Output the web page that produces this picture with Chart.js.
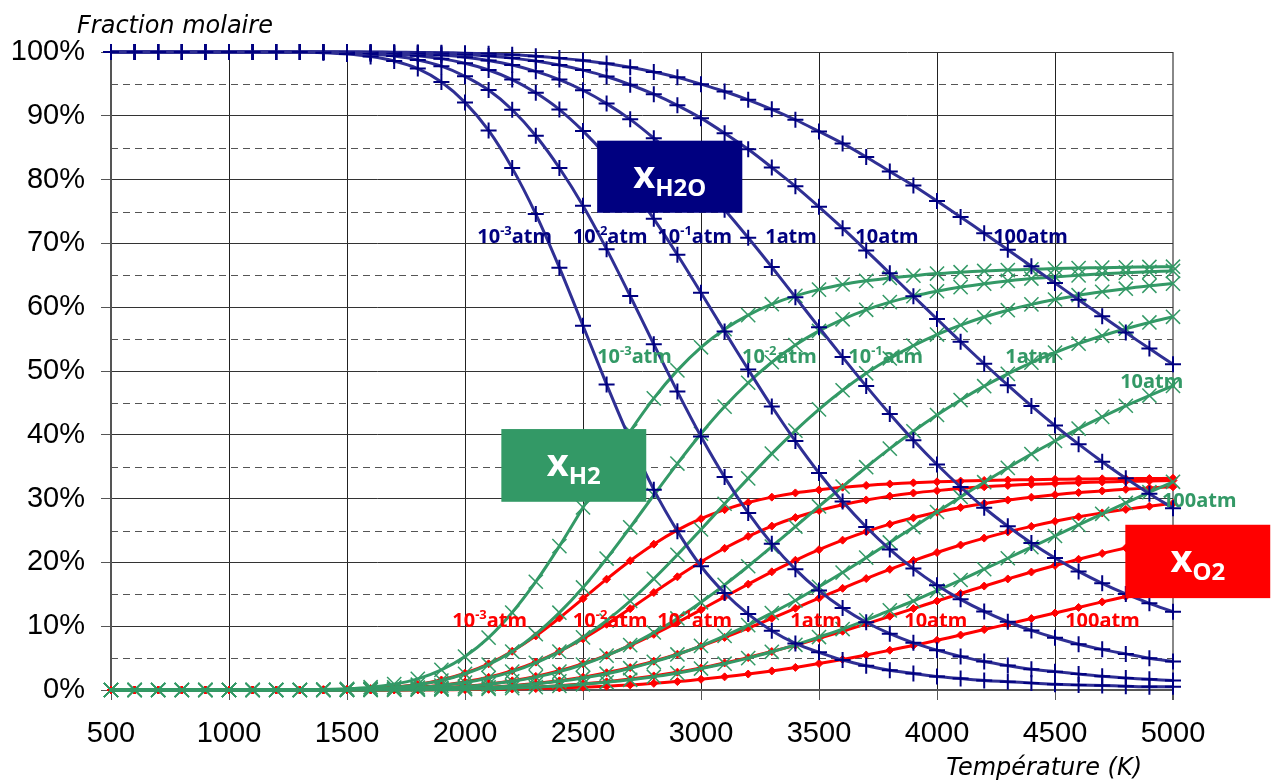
<!DOCTYPE html>
<html lang="fr">
<head>
<meta charset="utf-8">
<title>Fraction molaire H2O / H2 / O2</title>
<script src="https://cdn.jsdelivr.net/npm/chart.js@4.4.1/dist/chart.umd.min.js"></script>
<style>
  html, body { margin: 0; padding: 0; background: #fff; }
  #wrap { position: relative; width: 1276px; height: 781px; }
</style>
</head>
<body>
<div id="wrap"><canvas id="graphCanvas"></canvas></div>
<script>
// temperatures (K), one point every 100 K
var temperatures = [
  500, 600, 700, 800, 900, 1000, 1100, 1200, 1300, 1400,
  1500, 1600, 1700, 1800, 1900, 2000, 2100, 2200, 2300, 2400,
  2500, 2600, 2700, 2800, 2900, 3000, 3100, 3200, 3300, 3400,
  3500, 3600, 3700, 3800, 3900, 4000, 4100, 4200, 4300, 4400,
  4500, 4600, 4700, 4800, 4900, 5000
];

// pressure labels : base + exponent + "atm"
var pressureBase = ['10', '10', '10', '1', '10', '100'];
var pressureExp = ['-3', '-2', '-1', '', '', ''];

var yTicks = [0, 10, 20, 30, 40, 50, 60, 70, 80, 90, 100];
var yMinorTicks = [5, 15, 25, 35, 45, 55, 65, 75, 85, 95];

// x H2O (%)
var xH2O_m3 = [
  100, 100, 100, 100, 100,
  100, 100, 100, 100, 99.9,
  99.7, 99.3, 98.6, 97.4, 95.3,
  92.1, 87.7, 81.8, 74.6, 66.2,
  57.1, 47.9, 39.2, 31.4, 24.9,
  19.4, 15.2, 11.9, 9.3, 7.3,
  5.9, 4.7, 3.8, 3.1, 2.6,
  2.1, 1.8, 1.5, 1.3, 1.1,
  0.9, 0.8, 0.7, 0.6, 0.5,
  0.5
];
var xH2O_m2 = [
  100, 100, 100, 100, 100,
  100, 100, 100, 100, 99.95,
  99.87, 99.69, 99.36, 98.76, 97.78,
  96.19, 94.03, 90.95, 86.87, 81.82,
  75.9, 69.1, 61.75, 54.19, 46.77,
  39.74, 33.37, 27.76, 22.94, 18.91,
  15.58, 12.85, 10.62, 8.82, 7.39,
  6.25, 5.27, 4.46, 3.83, 3.27,
  2.88, 2.51, 2.16, 1.89, 1.68,
  1.48
];
var xH2O_m1 = [
  100, 100, 100, 100, 100,
  100, 100, 100, 100, 99.98,
  99.94, 99.86, 99.7, 99.42, 98.96,
  98.24, 97.18, 95.68, 93.6, 90.98,
  87.63, 83.67, 79.07, 73.85, 68.22,
  62.26, 56.21, 50.24, 44.43, 39.01,
  34.02, 29.53, 25.55, 22.04, 19.03,
  16.43, 14.21, 12.31, 10.7, 9.34,
  8.18, 7.18, 6.37, 5.66, 4.97,
  4.45
];
var xH2O_0 = [
  100, 100, 100, 100, 100,
  100, 100, 100, 100, 99.99,
  99.97, 99.93, 99.86, 99.73, 99.51,
  99.18, 98.67, 97.96, 96.97, 95.68,
  94.0, 91.91, 89.44, 86.48, 83.17,
  79.38, 75.28, 70.89, 66.3, 61.57,
  56.84, 52.18, 47.63, 43.26, 39.16,
  35.35, 31.82, 28.57, 25.67, 23.04,
  20.68, 18.59, 16.72, 15.06, 13.59,
  12.26
];
var xH2O_p1 = [
  100, 100, 100, 100, 100,
  100, 100, 100, 100, 100,
  99.99, 99.97, 99.94, 99.88, 99.78,
  99.62, 99.38, 99.04, 98.58, 97.96,
  97.16, 96.16, 94.87, 93.38, 91.64,
  89.63, 87.27, 84.75, 81.9, 78.95,
  75.74, 72.38, 68.88, 65.31, 61.72,
  58.15, 54.6, 51.14, 47.78, 44.53,
  41.45, 38.53, 35.78, 33.18, 30.77,
  28.5
];
var xH2O_p2 = [
  100, 100, 100, 100, 100,
  100, 100, 100, 100, 100,
  100, 99.99, 99.97, 99.94, 99.9,
  99.82, 99.71, 99.55, 99.34, 99.04,
  98.67, 98.19, 97.6, 96.87, 96.03,
  94.96, 93.81, 92.51, 91.02, 89.38,
  87.55, 85.67, 83.55, 81.28, 79.07,
  76.63, 74.14, 71.6, 69.02, 66.41,
  63.78, 61.18, 58.58, 56.02, 53.51,
  51.06
];

// x H2 (%)
var xH2_m3 = [
  0, 0, 0, 0, 0,
  0, 0, 0, 0, 0.07,
  0.19, 0.44, 0.92, 1.75, 3.15,
  5.24, 8.21, 12.14, 16.97, 22.55,
  28.62, 34.74, 40.54, 45.71, 50.1,
  53.71, 56.55, 58.76, 60.47, 61.78,
  62.75, 63.56, 64.13, 64.59, 64.94,
  65.27, 65.49, 65.68, 65.82, 65.94,
  66.05, 66.13, 66.2, 66.26, 66.31,
  66.35
];
var xH2_m2 = [
  0, 0, 0, 0, 0,
  0, 0, 0, 0, 0.03,
  0.09, 0.2, 0.43, 0.83, 1.48,
  2.54, 3.98, 6.03, 8.75, 12.12,
  16.07, 20.6, 25.5, 30.54, 35.49,
  40.17, 44.42, 48.16, 51.37, 54.06,
  56.28, 58.1, 59.59, 60.79, 61.74,
  62.5, 63.15, 63.69, 64.12, 64.49,
  64.75, 64.99, 65.23, 65.41, 65.55,
  65.68
];
var xH2_m1 = [
  0, 0, 0, 0, 0,
  0, 0, 0, 0, 0.02,
  0.04, 0.09, 0.2, 0.39, 0.69,
  1.17, 1.88, 2.88, 4.27, 6.01,
  8.25, 10.88, 13.95, 17.43, 21.19,
  25.16, 29.19, 33.17, 37.05, 40.66,
  43.99, 46.98, 49.64, 51.97, 53.98,
  55.71, 57.19, 58.46, 59.53, 60.44,
  61.21, 61.88, 62.42, 62.9, 63.35,
  63.7
];
var xH2_0 = [
  0, 0, 0, 0, 0,
  0, 0, 0, 0, 0.01,
  0.02, 0.04, 0.09, 0.18, 0.32,
  0.55, 0.88, 1.36, 2.02, 2.88,
  4.0, 5.39, 7.04, 9.01, 11.22,
  13.75, 16.48, 19.4, 22.47, 25.62,
  28.77, 31.88, 34.92, 37.83, 40.56,
  43.1, 45.45, 47.62, 49.55, 51.31,
  52.88, 54.28, 55.52, 56.63, 57.61,
  58.49
];
var xH2_p1 = [
  0, 0, 0, 0, 0,
  0, 0, 0, 0, 0,
  0.01, 0.02, 0.04, 0.08, 0.15,
  0.26, 0.41, 0.64, 0.95, 1.36,
  1.89, 2.56, 3.42, 4.41, 5.57,
  6.91, 8.48, 10.17, 12.07, 14.03,
  16.18, 18.41, 20.75, 23.13, 25.52,
  27.9, 30.26, 32.57, 34.81, 36.98,
  39.03, 40.98, 42.81, 44.55, 46.15,
  47.67
];
var xH2_p2 = [
  0, 0, 0, 0, 0,
  0, 0, 0, 0, 0,
  0, 0.01, 0.02, 0.04, 0.07,
  0.12, 0.19, 0.3, 0.44, 0.64,
  0.89, 1.21, 1.6, 2.09, 2.64,
  3.36, 4.12, 4.99, 5.99, 7.08,
  8.3, 9.55, 10.96, 12.48, 13.95,
  15.58, 17.24, 18.93, 20.65, 22.4,
  24.14, 25.88, 27.62, 29.32, 31.0,
  32.63
];

// x O2 (%)
var xO2_m3 = [
  0, 0, 0, 0, 0,
  0, 0, 0, 0, 0.04,
  0.1, 0.22, 0.46, 0.88, 1.57,
  2.62, 4.1, 6.07, 8.48, 11.28,
  14.31, 17.37, 20.27, 22.86, 25.05,
  26.85, 28.27, 29.38, 30.23, 30.89,
  31.37, 31.78, 32.07, 32.3, 32.47,
  32.63, 32.74, 32.84, 32.91, 32.97,
  33.02, 33.07, 33.1, 33.13, 33.15,
  33.18
];
var xO2_m2 = [
  0, 0, 0, 0, 0,
  0, 0, 0, 0, 0.02,
  0.04, 0.1, 0.21, 0.41, 0.74,
  1.27, 1.99, 3.02, 4.37, 6.06,
  8.03, 10.3, 12.75, 15.27, 17.74,
  20.09, 22.21, 24.08, 25.69, 27.03,
  28.14, 29.05, 29.79, 30.39, 30.87,
  31.25, 31.58, 31.85, 32.06, 32.24,
  32.37, 32.5, 32.61, 32.7, 32.77,
  32.84
];
var xO2_m1 = [
  0, 0, 0, 0, 0,
  0, 0, 0, 0, 0.01,
  0.02, 0.05, 0.1, 0.19, 0.35,
  0.59, 0.94, 1.44, 2.13, 3.01,
  4.12, 5.44, 6.98, 8.72, 10.59,
  12.58, 14.6, 16.59, 18.52, 20.33,
  21.99, 23.49, 24.82, 25.99, 26.99,
  27.86, 28.6, 29.23, 29.77, 30.22,
  30.61, 30.94, 31.21, 31.45, 31.67,
  31.85
];
var xO2_0 = [
  0, 0, 0, 0, 0,
  0, 0, 0, 0, 0.01,
  0.01, 0.02, 0.05, 0.09, 0.16,
  0.27, 0.44, 0.68, 1.01, 1.44,
  2.0, 2.7, 3.52, 4.51, 5.61,
  6.87, 8.24, 9.7, 11.23, 12.81,
  14.39, 15.94, 17.46, 18.91, 20.28,
  21.55, 22.73, 23.81, 24.78, 25.65,
  26.44, 27.14, 27.76, 28.31, 28.8,
  29.25
];
var xO2_p1 = [
  0, 0, 0, 0, 0,
  0, 0, 0, 0, 0,
  0.01, 0.01, 0.02, 0.04, 0.08,
  0.13, 0.21, 0.32, 0.47, 0.68,
  0.95, 1.28, 1.71, 2.21, 2.79,
  3.46, 4.24, 5.08, 6.03, 7.02,
  8.09, 9.21, 10.37, 11.56, 12.76,
  13.95, 15.13, 16.29, 17.41, 18.49,
  19.52, 20.49, 21.41, 22.27, 23.08,
  23.83
];
var xO2_p2 = [
  0, 0, 0, 0, 0,
  0, 0, 0, 0, 0,
  0, 0.01, 0.01, 0.02, 0.03,
  0.06, 0.1, 0.15, 0.22, 0.32,
  0.44, 0.6, 0.8, 1.04, 1.32,
  1.68, 2.06, 2.5, 2.99, 3.54,
  4.15, 4.78, 5.48, 6.24, 6.98,
  7.79, 8.62, 9.47, 10.33, 11.2,
  12.07, 12.94, 13.81, 14.66, 15.5,
  16.31
];

var seriesH2O = [xH2O_m3, xH2O_m2, xH2O_m1, xH2O_0, xH2O_p1, xH2O_p2];
var seriesH2 = [xH2_m3, xH2_m2, xH2_m1, xH2_0, xH2_p1, xH2_p2];
var seriesO2 = [xO2_m3, xO2_m2, xO2_m1, xO2_0, xO2_p1, xO2_p2];

// styles
var navyLine = '#2f2f94', navyMark = '#000080';
var green = '#339966';
var red = '#ff0000';
var fontTicks = '"Liberation Sans", Arial, sans-serif';
var fontText = '"Noto Sans", "DejaVu Sans", sans-serif';
var fontTitle = '"DejaVu Sans", Verdana, sans-serif';

// where the pressure labels sit, in axis units (T, %)
var labelPosH2O = [[2052, 70], [2457, 70], [2815, 70], [3272, 70], [3654, 70], [4238, 70]];
var labelPosH2 = [[2560, 51.2], [3174, 51.2], [3624, 51.2], [4289, 51.2], [4776, 47.4], [4953, 28.7]];
var labelPosO2 = [[1946, 9.9], [2457, 9.9], [2815, 9.9], [3378, 9.9], [3861, 9.9], [4543, 9.9]];

// name boxes : [T left, T right, % top, % bottom]
var boxes = [
  { pos: [2560, 3175, 86.1, 74.8], color: '#000080', sub: 'H2O' },
  { pos: [2154, 2768, 40.9, 29.5], color: green, sub: 'H2' },
  { pos: [4798, 5412, 25.9, 14.4], color: red, sub: 'O2' }
];

function makeDataset(values, lineColor, markColor, style, radius, markWidth) {
  return {
    data: temperatures.map(function (t, i) { return { x: t, y: values[i] }; }),
    borderColor: lineColor,
    borderWidth: 3,
    tension: 0.3,
    pointStyle: style,
    pointRadius: radius,
    pointBorderColor: markColor,
    pointBackgroundColor: markColor,
    pointBorderWidth: markWidth,
    clip: false
  };
}

var datasets = [];
seriesH2O.forEach(function (s) { datasets.push(makeDataset(s, navyLine, navyMark, 'cross', 8, 2)); });
seriesH2.forEach(function (s) { datasets.push(makeDataset(s, green, green, 'crossRot', 10, 1.5)); });
seriesO2.forEach(function (s) { datasets.push(makeDataset(s, red, red, 'rectRot', 4, 1)); });

function drawPressure(ctx, x, y, i, color) {
  ctx.fillStyle = color;
  ctx.textAlign = 'left';
  ctx.textBaseline = 'alphabetic';
  ctx.font = 'bold 20px ' + fontText;
  ctx.fillText(pressureBase[i], x, y);
  x += ctx.measureText(pressureBase[i]).width;
  if (pressureExp[i]) {
    ctx.font = 'bold 13px ' + fontText;
    ctx.fillText(pressureExp[i], x, y - 8);
    x += ctx.measureText(pressureExp[i]).width;
  }
  ctx.font = 'bold 20px ' + fontText;
  ctx.fillText('atm', x, y);
}

var annotations = {
  id: 'annotations',
  beforeDatasetsDraw: function (chart) {
    var ctx = chart.ctx, area = chart.chartArea, sy = chart.scales.y;
    ctx.save();
    ctx.strokeStyle = '#555';
    ctx.lineWidth = 1;
    ctx.setLineDash([7, 5]);
    yMinorTicks.forEach(function (v) {
      var py = Math.round(sy.getPixelForValue(v)) + 0.5;
      ctx.beginPath();
      ctx.moveTo(area.left, py);
      ctx.lineTo(area.right, py);
      ctx.stroke();
    });
    ctx.restore();
  },
  afterDatasetsDraw: function (chart) {
    var ctx = chart.ctx, sx = chart.scales.x, sy = chart.scales.y;
    ctx.save();
    labelPosH2O.forEach(function (p, i) {
      drawPressure(ctx, sx.getPixelForValue(p[0]), sy.getPixelForValue(p[1]), i, '#000080');
    });
    labelPosH2.forEach(function (p, i) {
      drawPressure(ctx, sx.getPixelForValue(p[0]), sy.getPixelForValue(p[1]), i, green);
    });
    labelPosO2.forEach(function (p, i) {
      drawPressure(ctx, sx.getPixelForValue(p[0]), sy.getPixelForValue(p[1]), i, red);
    });

    boxes.forEach(function (b) {
      var x0 = sx.getPixelForValue(b.pos[0]), x1 = sx.getPixelForValue(b.pos[1]);
      var y0 = sy.getPixelForValue(b.pos[2]), y1 = sy.getPixelForValue(b.pos[3]);
      ctx.fillStyle = b.color;
      ctx.fillRect(x0, y0, x1 - x0, y1 - y0);
      ctx.fillStyle = '#fff';
      ctx.textBaseline = 'alphabetic';
      ctx.textAlign = 'left';
      ctx.font = 'bold 38px ' + fontText;
      var wx = ctx.measureText('x').width;
      ctx.font = 'bold 24px ' + fontText;
      var ws = ctx.measureText(b.sub).width;
      var left = (x0 + x1) / 2 - (wx + ws) / 2;
      var base = (y0 + y1) / 2 + 11;
      ctx.font = 'bold 38px ' + fontText;
      ctx.fillText('x', left, base);
      ctx.font = 'bold 24px ' + fontText;
      ctx.fillText(b.sub, left + wx, base + 8);
    });
    ctx.restore();
  },
  afterDraw: function (chart) {
    var ctx = chart.ctx;
    ctx.save();
    ctx.fillStyle = '#000';
    ctx.font = 'italic 24px ' + fontTitle;
    ctx.textBaseline = 'alphabetic';
    ctx.textAlign = 'left';
    ctx.fillText('Fraction molaire', 77, 33);
    ctx.textAlign = 'right';
    ctx.fillText('Température (K)', 1142, 775);
    ctx.restore();
  }
};

var graphTarget = document.getElementById('graphCanvas');
var lineGraph = new Chart(graphTarget, {
  type: 'line',
  data: { datasets: datasets },
  plugins: [annotations],
  options: {
    responsive: true,
    maintainAspectRatio: false,
    animation: false,
    layout: { padding: { left: 0, top: 52, right: 103, bottom: 0 } },
    plugins: {
      legend: { display: false },
      tooltip: { enabled: false },
      title: { display: false }
    },
    scales: {
      x: {
        type: 'linear',
        min: 500,
        max: 5000,
        afterFit: function (scale) { scale.height = 91; },
        ticks: {
          stepSize: 500,
          color: '#000',
          padding: 17,
          maxRotation: 0,
          font: { family: fontTicks, size: 29 },
          callback: function (v) { return String(v); }
        },
        grid: {
          color: function (ctx) { return ctx.tick && ctx.tick.value === 5000 ? '#888' : '#222'; },
          lineWidth: function (ctx) { return ctx.tick && ctx.tick.value === 5000 ? 2 : 1; },
          tickLength: 10,
          tickColor: '#555'
        },
        border: { color: '#555', width: 2 }
      },
      y: {
        min: 0,
        max: 100,
        afterFit: function (scale) { scale.width = 111; },
        afterBuildTicks: function (scale) {
          scale.ticks = yTicks.map(function (v) { return { value: v }; });
        },
        ticks: {
          color: '#000',
          padding: 16,
          font: { family: fontTicks, size: 29 },
          callback: function (v) { return v + '%'; }
        },
        grid: {
          color: '#333',
          lineWidth: 1,
          tickLength: 10,
          tickColor: '#555'
        },
        border: { color: '#555', width: 2 }
      }
    }
  }
});
</script>
</body>
</html>
